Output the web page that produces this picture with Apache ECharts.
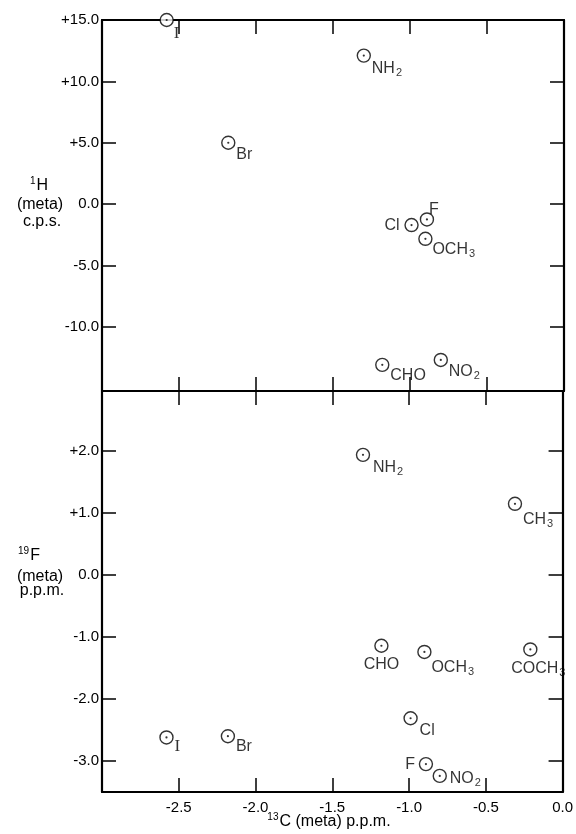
<!DOCTYPE html>
<html>
<head>
<meta charset="utf-8">
<script src="https://cdn.jsdelivr.net/npm/echarts@6/dist/echarts.min.js"></script>
<style>
html,body{margin:0;padding:0;background:#fff;}
#chart{width:576px;height:834px;}
</style>
</head>
<body>
<div id="chart"></div>
<script>
// ---- data ----
const substituents = ['I', 'Br', 'NH2', 'F', 'Cl', 'OCH3', 'CHO', 'NO2', 'CH3', 'COCH3'];
const c13Meta = [-2.58, -2.18, -1.30, -0.89, -0.99, -0.90, -1.18, -0.80, -0.31, -0.21];
const h1Meta  = [15.0, 5.0, 12.1, -1.25, -1.71, -2.83, -13.1, -12.7, null, null];
const f19Meta = [-2.62, -2.60, 1.94, -3.05, -2.31, -1.24, -1.14, -3.24, 1.15, -1.20];

const xTickValues = [-2.5, -2.0, -1.5, -1.0, -0.5, 0.0];
const xTickLabels = ['-2.5', '-2.0', '-1.5', '-1.0', '-0.5', '0.0'];
const yTopTickValues = [15, 10, 5, 0, -5, -10];
const yTopTickLabels = ['+15.0', '+10.0', '+5.0', '0.0', '-5.0', '-10.0'];
const yBotTickValues = [2, 1, 0, -1, -2, -3];
const yBotTickLabels = ['+2.0', '+1.0', '0.0', '-1.0', '-2.0', '-3.0'];

// ---- label placement (layout only) ----
const topLabelLayout = {
  I: ['left', 7, 14], Br: ['left', 8, 12], NH2: ['left', 8, 13], F: ['center', 7, -10],
  Cl: ['right', -12, 1], OCH3: ['left', 7, 11], CHO: ['left', 8, 11], NO2: ['left', 8, 12]
};
const botLabelLayout = {
  I: ['left', 8, 9], Br: ['left', 8, 10], NH2: ['left', 10, 13], F: ['right', -11, 0],
  Cl: ['left', 9, 12], OCH3: ['left', 7, 16], CHO: ['center', 0, 19], NO2: ['left', 10, 3],
  CH3: ['left', 8, 16], COCH3: ['center', 8, 19]
};

const FONT = 'Liberation Sans';
function richName(n) {
  if (n === 'I') return '{i|I}';
  return n.replace(/([A-Za-z]+)/g, '{m|$1}').replace(/(\d+)/g, '{s|$1}');
}
const labelRich = {
  m: { fontSize: 16, fontFamily: FONT, color: '#000', lineHeight: 18 },
  s: { fontSize: 11, fontFamily: FONT, color: '#000', lineHeight: 11, padding: [9, 0, 0, 1] },
  i: { fontSize: 17, fontFamily: 'Liberation Serif', color: '#000', lineHeight: 18 }
};

function buildPoints(yVals, layout) {
  const pts = [];
  substituents.forEach((n, k) => {
    if (yVals[k] == null) return;
    const L = layout[n];
    pts.push({
      name: n,
      value: [c13Meta[k], yVals[k]],
      label: {
        show: true, position: 'inside', align: L[0], verticalAlign: 'middle',
        offset: [L[1], L[2]], formatter: richName(n), rich: labelRich
      }
    });
  });
  return pts;
}
function dots(yVals) {
  const pts = [];
  substituents.forEach((n, k) => { if (yVals[k] != null) pts.push([c13Meta[k], yVals[k]]); });
  return pts;
}

const lineStyle = { color: '#000', width: 2.2 };
function xAxis(grid, pos, labels) {
  return {
    type: 'value', gridIndex: grid, position: pos, min: -3, max: 0, interval: 0.5,
    axisLine: { show: true, onZero: false, lineStyle },
    axisTick: { show: true, inside: true, length: 14, lineStyle: { color: '#000', width: 1.5 } },
    axisLabel: {
      show: labels, margin: 8, fontSize: 15, fontFamily: FONT, color: '#000',
      showMinLabel: false,
      formatter: v => { const i = xTickValues.findIndex(t => Math.abs(t - v) < 1e-6); return i < 0 ? '' : xTickLabels[i]; }
    },
    splitLine: { show: false }
  };
}
function yAxis(grid, pos, min, max, vals, labs, labels) {
  return {
    type: 'value', gridIndex: grid, position: pos, min, max,
    axisLine: { show: true, onZero: false, lineStyle },
    axisTick: { show: true, inside: true, length: 14, customValues: vals, lineStyle: { color: '#000', width: 1.5 } },
    axisLabel: {
      show: labels, margin: 3, fontSize: 15, fontFamily: FONT, color: '#000', customValues: vals,
      formatter: v => { const i = vals.findIndex(t => Math.abs(t - v) < 1e-6); return i < 0 ? '' : labs[i]; }
    },
    splitLine: { show: false }
  };
}

const circleStyle = { color: '#fff', borderColor: '#000', borderWidth: 1.4 };
const titleRich = {
  b: { fontSize: 16, fontFamily: FONT, color: '#000', lineHeight: 18 },
  sup: { fontSize: 10, fontFamily: FONT, color: '#000', lineHeight: 10, padding: [0, 1, 9, 0] }
};
function gText(text, x, y) {
  return { type: 'text', x, y, style: { text, rich: titleRich, font: '16px ' + FONT, fill: '#000', align: 'center', verticalAlign: 'middle' } };
}

const chart = echarts.init(document.getElementById('chart'), null, { renderer: 'canvas' });
chart.setOption({
  animation: false,
  backgroundColor: '#fff',
  grid: [
    { left: 102, right: 12, top: 20, height: 371 },
    { left: 102, right: 12, top: 391, height: 401 }
  ],
  xAxis: [
    xAxis(0, 'bottom', false), xAxis(0, 'top', false),
    xAxis(1, 'top', false), xAxis(1, 'bottom', true)
  ],
  yAxis: [
    yAxis(0, 'left', -15.23, 15, yTopTickValues, yTopTickLabels, true),
    yAxis(0, 'right', -15.23, 15, yTopTickValues, yTopTickLabels, false),
    yAxis(1, 'left', -3.5, 2.97, yBotTickValues, yBotTickLabels, true),
    yAxis(1, 'right', -3.5, 2.97, yBotTickValues, yBotTickLabels, false)
  ],
  series: [
    { type: 'scatter', xAxisIndex: 0, yAxisIndex: 0, symbol: 'circle', symbolSize: 13, clip: false, z: 5,
      itemStyle: circleStyle, data: buildPoints(h1Meta, topLabelLayout) },
    { type: 'scatter', xAxisIndex: 0, yAxisIndex: 0, symbol: 'circle', symbolSize: 2.2, clip: false, z: 6,
      itemStyle: { color: '#000' }, data: dots(h1Meta) },
    { type: 'scatter', xAxisIndex: 3, yAxisIndex: 2, symbol: 'circle', symbolSize: 13, clip: false, z: 5,
      itemStyle: circleStyle, data: buildPoints(f19Meta, botLabelLayout) },
    { type: 'scatter', xAxisIndex: 3, yAxisIndex: 2, symbol: 'circle', symbolSize: 2.2, clip: false, z: 6,
      itemStyle: { color: '#000' }, data: dots(f19Meta) }
  ],
  graphic: [
    gText('{sup|1}{b|H}', 39, 186),
    gText('{b|(meta)}', 40, 205),
    gText('{b|c.p.s.}', 42, 222),
    gText('{sup|19}{b|F}', 29, 556),
    gText('{b|(meta)}', 40, 577),
    gText('{b|p.p.m.}', 42, 591),
    gText('{sup|13}{b|C (meta) p.p.m.}', 329, 822)
  ]
});
</script>
</body>
</html>
